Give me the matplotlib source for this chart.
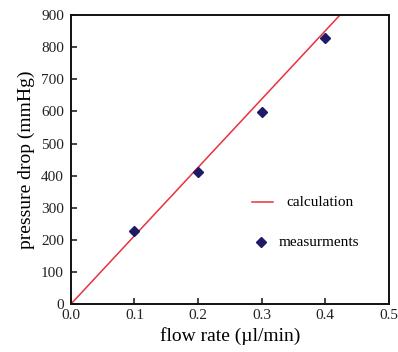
import matplotlib
matplotlib.use("Agg")
import matplotlib.pyplot as plt
import numpy as np

plt.rcParams['font.family'] = ['Liberation Serif', 'DejaVu Serif']

calc_x = [0.0, 0.5]
calc_slope = 2128.0
meas_x = [0.1, 0.2, 0.3, 0.4]
meas_y = [228, 412, 598, 828]
xticks = [0.0, 0.1, 0.2, 0.3, 0.4, 0.5]
yticks = [0, 100, 200, 300, 400, 500, 600, 700, 800, 900]

line_color = '#e8323c'
pt_color = '#1e1a66'

fig = plt.figure(figsize=(3.98, 3.52), dpi=100)
ax = fig.add_axes([0.178, 0.136, 0.799, 0.821])

cx = np.array(calc_x)
ax.plot(cx, calc_slope * cx, color=line_color, lw=1.1, zorder=2)
ax.plot(meas_x, meas_y, linestyle='none', marker='D', color=pt_color, markersize=5, zorder=3)

ax.set_xlim(0, 0.5)
ax.set_ylim(0, 900)
ax.set_xticks(xticks)
ax.set_yticks(yticks)
ax.set_xticklabels([f"{v:.1f}" for v in xticks])
ax.tick_params(direction='in', length=4, width=1.2, labelsize=11, colors='#222222')
ax.tick_params(axis='y', pad=5)
for s in ax.spines.values():
    s.set_linewidth(1.4)
    s.set_color('#111111')

ax.set_xlabel('flow rate (\u00b5l/min)', fontsize=14, labelpad=4)
ax.set_ylabel('pressure drop (mmHg)', fontsize=14, labelpad=4)

# legend drawn manually to match reference placement
ax.plot([0.569, 0.635], [0.353, 0.353], transform=ax.transAxes, color=line_color, lw=1.1)
ax.text(0.679, 0.353, 'calculation', transform=ax.transAxes, fontsize=11, va='center', ha='left')
ax.plot([0.597], [0.2145], transform=ax.transAxes, marker='D', color=pt_color, markersize=5,
        linestyle='none')
ax.text(0.654, 0.2145, 'measurments', transform=ax.transAxes, fontsize=11, va='center', ha='left')

fig.savefig('out.png', dpi=100)
